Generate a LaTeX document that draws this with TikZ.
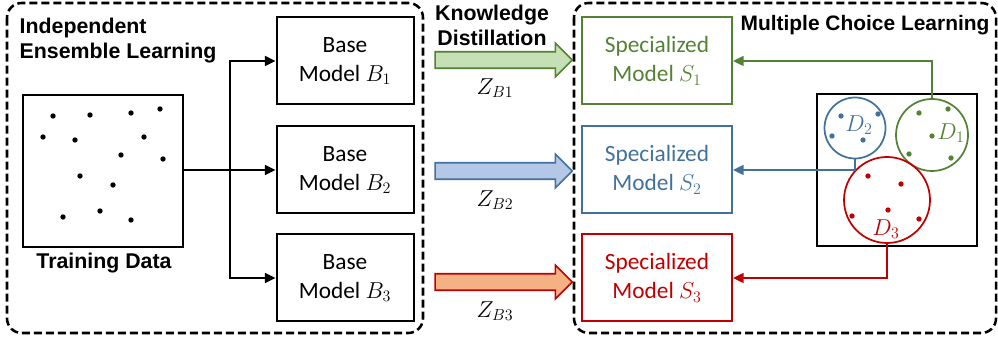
\documentclass[tikz,border=0pt]{standalone}
\usepackage{fontspec}
\setmainfont{Carlito}
\newfontfamily\headfont{Liberation Sans}
\usetikzlibrary{arrows.meta,shapes.arrows}

\definecolor{mclgreen}{HTML}{548235}
\definecolor{mclblue}{HTML}{41719C}
\definecolor{mclred}{HTML}{C00000}
\definecolor{kdgreen}{HTML}{C5E0B4}
\definecolor{kdblue}{HTML}{B4C7E7}
\definecolor{kdorange}{HTML}{F4B183}

\tikzset{
    groupbox/.style={draw, line width=1.9pt, dash pattern=on 6pt off 3pt, rounded corners=11pt},
    modelbox/.style={draw, line width=1.5pt, minimum width=102.75pt, minimum height=65.25pt, align=center,
        font=\fontsize{17.5}{21.75}\selectfont},
    headlabel/.style={font=\headfont\bfseries\fontsize{16}{18.75}\selectfont},
    mathlabel/.style={font=\fontsize{17}{20}\selectfont},
    kdarrow/.style={single arrow, draw, line width=1.2pt, inner xsep=0pt, inner ysep=5.6pt,
        minimum height=102.75pt, single arrow head extend=6.4pt, single arrow head indent=0pt},
    conn/.style={line width=1.3pt, -{Triangle[length=8pt,width=7.5pt]}},
    datadot/.style={circle, fill, inner sep=0pt, minimum size=4pt},
    cluster/.style={circle, draw, line width=1.3pt, inner sep=0pt}
}

\begin{document}
\begin{tikzpicture}[x=0.75pt,y=-0.75pt]
    \useasboundingbox (0,0) rectangle (998,341);

    % dashed groups
    \draw[groupbox] (7,3) rectangle (423,333);
    \draw[groupbox] (574,3) rectangle (996,333);

    \node[headlabel, align=left, anchor=north west] (ensemble) at (15,13) {Independent\\Ensemble Learning};
    \node[headlabel, align=center] (distill) at (492,25) {Knowledge\\Distillation};
    \node[headlabel, font=\headfont\bfseries\fontsize{15.7}{18.75}\selectfont] (mcl) at (865,25) {Multiple Choice Learning};

    % training data
    \node[draw, line width=2.2pt, minimum width=120pt, minimum height=114pt] (tdata) at (103,171) {};
    \node[headlabel] (tlabel) at (104,263) {Training Data};
    \foreach \px/\py in {53/116, 90/115, 131/113, 160/109, 43/137, 75/140, 144/137,
                         121/155, 163/159, 80/176, 113/185, 63/217, 100/211, 131/220}
        \node[datadot] at (\px,\py) {};

    % base models
    \node[modelbox] (base1) at (345,61) {Base\\Model $B_1$};
    \node[modelbox] (base2) at (345,170) {Base\\Model $B_2$};
    \node[modelbox] (base3) at (345,278) {Base\\Model $B_3$};

    \coordinate (fork) at (230,170);
    \draw[line width=1.3pt] (tdata.east |- fork) -- (fork);
    \draw[conn] (fork) |- (base1.west);
    \draw[conn] (fork) -- (base2.west);
    \draw[conn] (fork) |- (base3.west);

    % distillation arrows
    \node[kdarrow, draw=mclgreen, fill=kdgreen] (kd1) at (499.5,60) {};
    \node[kdarrow, draw=mclblue, fill=kdblue] (kd2) at (499.5,171) {};
    \node[kdarrow, draw=mclred, fill=kdorange] (kd3) at (499.5,282) {};
    \node[mathlabel] (z1) at (495,88) {$Z_{B1}$};
    \node[mathlabel] (z2) at (495,200) {$Z_{B2}$};
    \node[mathlabel] (z3) at (495,311) {$Z_{B3}$};

    % specialized models
    \node[modelbox, minimum width=112.5pt, draw=mclgreen, text=mclgreen] (spec1) at (657,61) {Specialized\\Model $S_1$};
    \node[modelbox, minimum width=112.5pt, draw=mclblue, text=mclblue] (spec2) at (657,170) {Specialized\\Model $S_2$};
    \node[modelbox, minimum width=112.5pt, draw=mclred, text=mclred] (spec3) at (657,278) {Specialized\\Model $S_3$};

    % data split into clusters
    \node[draw, line width=2.2pt, minimum width=120pt, minimum height=114pt] (split) at (897,170) {};
    \node[cluster, draw=mclblue, minimum size=45.75pt] (d2) at (855,128) {};
    \node[cluster, draw=mclgreen, minimum size=54pt] (d1) at (932,135) {};
    \node[cluster, draw=mclred, minimum size=64.5pt] (d3) at (887,200) {};

    \node[mathlabel, text=mclgreen] (d1lab) at (951,133) {$D_1$};
    \node[mathlabel, text=mclblue] (d2lab) at (859,125) {$D_2$};
    \node[mathlabel, text=mclred] (d3lab) at (886,229) {$D_3$};

    \foreach \px/\py in {919/113, 948/109, 932/136, 909/154, 951/158}
        \node[datadot, fill=mclgreen] at (\px,\py) {};
    \foreach \px/\py in {841/116, 878/114, 832/136, 863/140}
        \node[datadot, fill=mclblue] at (\px,\py) {};
    \foreach \px/\py in {868/176, 901/184, 888/210, 852/216, 919/219}
        \node[datadot, fill=mclred] at (\px,\py) {};

    \draw[conn, line width=1.1pt, color=mclgreen] (d1.north) |- (spec1.east);
    \draw[conn, line width=1.1pt, color=mclblue] (d2.south) |- (spec2.east);
    \draw[conn, line width=1.1pt, color=mclred] (d3.south) |- (spec3.east);

\end{tikzpicture}
\end{document}
